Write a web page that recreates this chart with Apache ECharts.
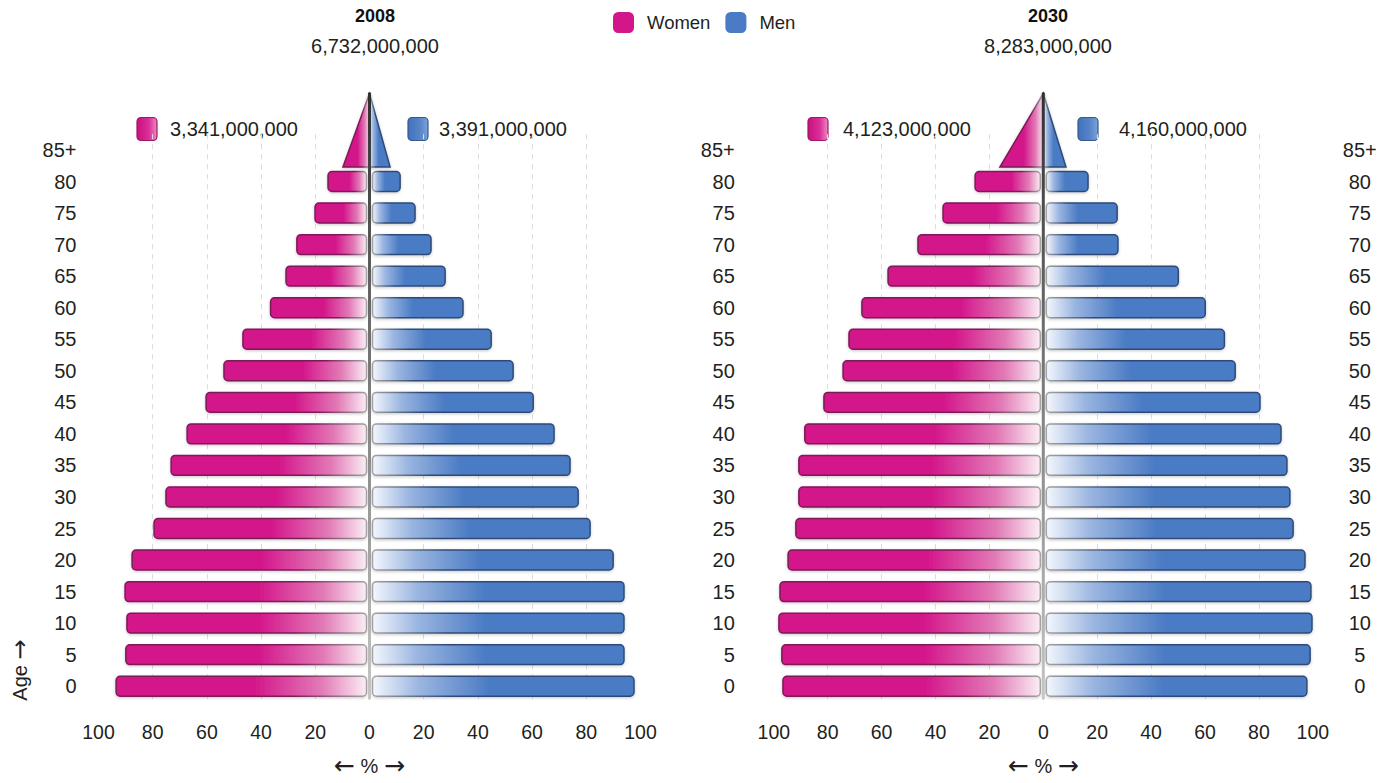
<!DOCTYPE html>
<html>
<head>
<meta charset="utf-8">
<title>World population by age and sex, 2008 and 2030</title>
<script src="https://cdn.jsdelivr.net/npm/echarts@6/dist/echarts.min.js"></script>
<style>
  html, body { margin: 0; padding: 0; background: #ffffff; }
  #chart { width: 1383px; height: 783px; }
</style>
</head>
<body>
<div id="chart"></div>
<script>
// Age groups, bottom to top
const ages = ['0', '5', '10', '15', '20', '25', '30', '35', '40', '45', '50', '55', '60', '65', '70', '75', '80', '85+'];

// Relative size of each age group (%), per sex
const women2008 = [93.5, 89.9, 89.5, 90.2, 87.6, 79.5, 75.1, 73.2, 67.3, 60.3, 53.7, 46.7, 36.5, 30.8, 26.8, 20.1, 15.3, 9.8];
const men2008   = [97.6, 93.9, 93.9, 93.9, 89.9, 81.4, 77.0, 74.0, 68.1, 60.4, 53.0, 44.9, 34.5, 27.9, 22.7, 16.8, 11.3, 7.6];
const women2030 = [96.6, 97.0, 98.1, 97.7, 94.7, 91.8, 90.7, 90.7, 88.5, 81.4, 74.3, 72.1, 67.3, 57.6, 46.5, 37.2, 25.3, 16.1];
const men2030   = [97.8, 99.0, 99.7, 99.3, 97.1, 92.7, 91.5, 90.4, 88.2, 80.4, 71.2, 67.2, 60.1, 50.1, 27.7, 27.4, 16.6, 8.4];

// Headline figures
const years        = ['2008', '2030'];
const totals       = ['6,732,000,000', '8,283,000,000'];
const womenTotals  = ['3,341,000,000', '4,123,000,000'];
const menTotals    = ['3,391,000,000', '4,160,000,000'];

const FONT = '"Liberation Sans", Arial, sans-serif';
const ARROW_FONT = '"DejaVu Sans", sans-serif';
const TEXT = '#231f20';
const PINK = '#d4168b';
const BLUE = '#4a7bc4';

const palette = {
  women: { solid: PINK, mid: '#e27ab6', light: '#fbeef5', border: '#7c1a56' },
  men:   { solid: BLUE, mid: '#9ab5e0', light: '#f4f7fd', border: '#2e4a78' }
};

// Gradient running from the outer end of a bar (solid) to its inner end (near white)
function barFill(p, outerLeft) {
  const stops = [
    { offset: 0, color: p.solid },
    { offset: 0.55, color: p.solid },
    { offset: 0.82, color: p.mid },
    { offset: 1, color: p.light }
  ];
  return outerLeft
    ? new echarts.graphic.LinearGradient(0, 0, 1, 0, stops)
    : new echarts.graphic.LinearGradient(1, 0, 0, 0, stops);
}
function barStroke(p, outerLeft) {
  const stops = [
    { offset: 0, color: p.border },
    { offset: 0.7, color: p.border },
    { offset: 1, color: '#a3a3a3' }
  ];
  return outerLeft
    ? new echarts.graphic.LinearGradient(0, 0, 1, 0, stops)
    : new echarts.graphic.LinearGradient(1, 0, 0, 0, stops);
}

// side = -1 draws to the left of the centre (women), +1 to the right (men)
function pyramidRenderer(side) {
  const p = side < 0 ? palette.women : palette.men;
  const outerLeft = side < 0;
  return function (params, api) {
    const idx = api.value(0);
    const v = api.value(1);
    const c = api.coord([0, idx]);
    const e = api.coord([side * v, idx]);
    const band = api.size([0, 1])[1];
    const style = {
      fill: barFill(p, outerLeft),
      stroke: barStroke(p, outerLeft),
      lineWidth: 1.5,
      shadowBlur: 3,
      shadowColor: 'rgba(0,0,0,0.22)',
      shadowOffsetY: 1
    };
    if (idx === ages.length - 1) {
      // oldest group drawn as the tip of the pyramid
      const base = c[1] + band * 0.54;
      const apex = base - band * 2.33;
      return {
        type: 'polygon',
        shape: { points: [[c[0], apex], [c[0], base], [e[0], base]] },
        style: style
      };
    }
    const h = band * 0.63;
    const inner = c[0] + side * 3;
    return {
      type: 'rect',
      shape: { x: Math.min(inner, e[0]), y: c[1] - h / 2, width: Math.abs(e[0] - inner), height: h, r: 4 },
      style: style
    };
  };
}

// Centre spine from the pyramid tip down through the youngest group
function spineRenderer(params, api) {
  const top = api.coord([0, ages.length - 1]);
  const bot = api.coord([0, 0]);
  const band = api.size([0, 1])[1];
  const apex = top[1] + band * 0.54 - band * 2.33;
  const end = bot[1] + band * 0.38;
  return {
    type: 'line',
    shape: { x1: top[0], y1: apex, x2: top[0], y2: end },
    style: {
      stroke: new echarts.graphic.LinearGradient(0, apex, 0, end, [
        { offset: 0, color: '#2f2f2f' },
        { offset: 0.4, color: '#6f6f6f' },
        { offset: 1, color: '#c6c6c6' }
      ], true),
      lineWidth: 3,
      lineCap: 'round'
    },
    z2: 10
  };
}

const gridTop = 134.2, gridHeight = 570.4;
const grids = [
  { left: 98.5, top: gridTop, width: 542, height: gridHeight },
  { left: 773.8, top: gridTop, width: 539, height: gridHeight }
];

function xAxisFor(i) {
  return {
    type: 'value', gridIndex: i, min: -100, max: 100, interval: 20,
    name: '{a|←} % {a|→}', nameLocation: 'middle', nameGap: 51,
    nameTextStyle: {
      fontFamily: FONT, fontSize: 20, color: TEXT,
      rich: { a: { fontFamily: ARROW_FONT, fontSize: 25, color: TEXT } }
    },
    axisLine: { show: false },
    axisTick: { show: false },
    axisLabel: {
      margin: 20, fontFamily: FONT, fontSize: 19.5, color: TEXT,
      formatter: function (v) { return String(Math.abs(v)); }
    },
    splitLine: {
      show: true, showMinLine: false, showMaxLine: false,
      lineStyle: { color: '#dcdcdc', type: [5, 5], width: 1 }
    }
  };
}
function yAxisFor(i, position, label) {
  return {
    type: 'category', gridIndex: i, data: ages, position: position,
    axisLine: { show: false }, axisTick: { show: false }, splitLine: { show: false },
    axisLabel: Object.assign({ fontFamily: FONT, fontSize: 20, color: TEXT }, label)
  };
}

function seriesPair(gridIdx, women, men) {
  const mk = function (name, vals, side, color) {
    return {
      type: 'custom', name: name,
      xAxisIndex: gridIdx, yAxisIndex: gridIdx,
      itemStyle: { color: color },
      encode: { y: 0, x: 1 },
      data: vals.map(function (v, i) { return [i, v]; }),
      renderItem: pyramidRenderer(side),
      z: 2
    };
  };
  return [
    mk('Women', women, -1, PINK),
    mk('Men', men, 1, BLUE),
    {
      type: 'custom', name: 'spine' + gridIdx,
      xAxisIndex: gridIdx, yAxisIndex: gridIdx,
      encode: { y: 0, x: 1 },
      data: [[0, 0]],
      renderItem: spineRenderer,
      silent: true,
      z: 5
    }
  ];
}

// Small key squares and totals above each pyramid
function totalsGraphic(wTotal, mTotal, wIconX, wTextX, mIconX, mTextX) {
  const y = 129;
  const sq = function (x, fill, stroke) {
    return {
      type: 'rect', x: x, y: y - 11.5,
      shape: { width: 20, height: 23, r: 4 },
      style: { fill: fill, stroke: stroke, lineWidth: 1.2 }
    };
  };
  const txt = function (x, s) {
    return {
      type: 'text', x: x, y: y,
      style: { text: s, font: '20px ' + FONT, fill: TEXT, align: 'left', verticalAlign: 'middle' }
    };
  };
  return [
    sq(wIconX, new echarts.graphic.LinearGradient(0, 0, 1, 0, [
      { offset: 0, color: '#c8127f' }, { offset: 0.6, color: '#dc2f98' }, { offset: 1, color: '#ea8cc2' }]), '#a01465'),
    txt(wTextX, wTotal),
    sq(mIconX, new echarts.graphic.LinearGradient(0, 0, 1, 0, [
      { offset: 0, color: '#4272bd' }, { offset: 0.6, color: '#5685c9' }, { offset: 1, color: '#7fa2d6' }]), '#36598f'),
    txt(mTextX, mTotal)
  ];
}

const chart = echarts.init(document.getElementById('chart'), null, { renderer: 'svg' });

const titleStyle = { fontFamily: FONT, fontSize: 18, fontWeight: 'bold', color: '#111' };
const subStyle = { fontFamily: FONT, fontSize: 20, color: TEXT };

chart.setOption({
  backgroundColor: '#ffffff',
  animation: false,
  textStyle: { fontFamily: FONT },
  title: [
    { text: years[0], subtext: totals[0], left: 370, top: 2, textAlign: 'center', itemGap: 11,
      textStyle: titleStyle, subtextStyle: subStyle },
    { text: years[1], subtext: totals[1], left: 1043, top: 2, textAlign: 'center', itemGap: 11,
      textStyle: titleStyle, subtextStyle: subStyle }
  ],
  legend: {
    data: ['Women', 'Men'],
    left: 613, top: 12, padding: 0,
    icon: 'roundRect',
    itemWidth: 21, itemHeight: 21, itemGap: 15,
    textStyle: { fontFamily: FONT, fontSize: 18.5, color: TEXT, padding: [0, 0, 0, 8] }
  },
  grid: grids,
  xAxis: [xAxisFor(0), xAxisFor(1)],
  yAxis: [
    yAxisFor(0, 'left', { margin: 22 }),
    yAxisFor(1, 'left', { margin: 39 }),
    yAxisFor(1, 'right', { margin: 47, align: 'center' })
  ],
  series: [].concat(
    seriesPair(0, women2008, men2008),
    seriesPair(1, women2030, men2030)
  ),
  graphic: [].concat(
    totalsGraphic(womenTotals[0], menTotals[0], 137, 170, 408, 439),
    totalsGraphic(womenTotals[1], menTotals[1], 808, 843, 1078, 1119),
    [{
      type: 'text', x: 20, y: 670, rotation: Math.PI / 2,
      style: {
        text: 'Age {a|→}', font: '20px ' + FONT, fill: TEXT, align: 'center', verticalAlign: 'middle',
        rich: { a: { fontFamily: ARROW_FONT, fontSize: 24, fill: TEXT } }
      }
    }]
  )
});
</script>
</body>
</html>
